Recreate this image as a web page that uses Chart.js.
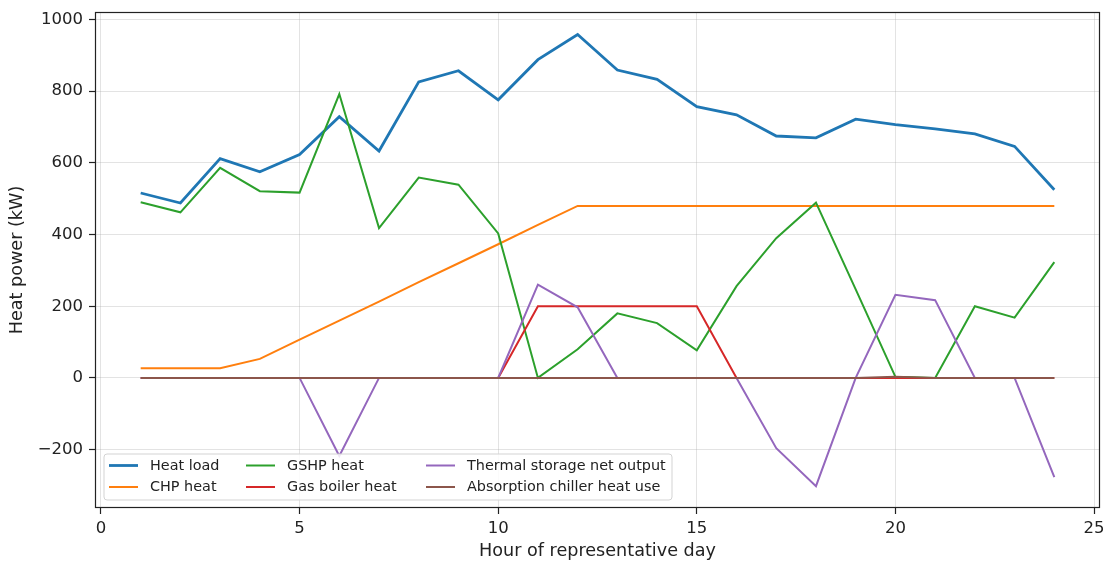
<!DOCTYPE html>
<html>
<head>
<meta charset="utf-8">
<script src="https://cdn.jsdelivr.net/npm/chart.js@4/dist/chart.umd.min.js"></script>
<style>
html,body{margin:0;padding:0;background:#fff;}
#wrap{width:1108px;height:567px;}
</style>
</head>
<body>
<div id="wrap"><canvas id="c" width="1108" height="567"></canvas></div>
<script>
const hours = [1,2,3,4,5,6,7,8,9,10,11,12,13,14,15,16,17,18,19,20,21,22,23,24];
const heatLoad = [516,488,612,575,623,729,633,826,857,776,888,958,859,833,757,734,675,670,722,707,695,681,646,525];
const chpHeat = [27,27,27,53,107,160,213,267,320,373,427,480,480,480,480,480,480,480,480,480,480,480,480,480];
const gshpHeat = [490,462,586,521,517,792,418,559,539,403,0,80,180,153,77,256,390,489,247,3,0,200,168,323];
const boilerHeat = [0,0,0,0,0,0,0,0,0,0,200,200,200,200,200,0,0,0,0,0,0,0,0,0];
const storageNet = [0,0,0,0,0,-218,0,0,0,0,260,197,0,0,0,0,-196,-302,0,232,217,0,0,-277];
const chillerHeat = [0,0,0,0,0,0,0,0,0,0,0,0,0,0,0,0,0,0,0,3,0,0,0,0];
const seriesLabels = ["Heat load","CHP heat","GSHP heat","Gas boiler heat","Thermal storage net output","Absorption chiller heat use"];
const seriesColors = ["#1f77b4","#ff7f0e","#2ca02c","#d62728","#9467bd","#8c564b"];
const seriesData = [heatLoad, chpHeat, gshpHeat, boilerHeat, storageNet, chillerHeat];
const xTicks = [0,5,10,15,20,25];
const yTicks = [-200,0,200,400,600,800,1000];
const xTitle = "Hour of representative day";
const yTitle = "Heat power (kW)";

const FONT = "'DejaVu Sans', sans-serif";

const datasets = seriesData.map((vals, i) => ({
  label: seriesLabels[i],
  data: hours.map((h, j) => ({x: h, y: vals[j]})),
  borderColor: seriesColors[i],
  backgroundColor: seriesColors[i],
  borderWidth: i === 0 ? 2.8 : 2.0,
  pointRadius: 0,
  tension: 0,
  fill: false,
  order: seriesData.length - i
}));

const fmt = v => (v < 0 ? '\u2212' + Math.abs(v) : String(v));

const framePlugin = {
  id: 'frame',
  afterDatasetsDraw(chart) {
    const ctx = chart.ctx, a = chart.chartArea;
    ctx.save();
    ctx.strokeStyle = '#222';
    ctx.lineWidth = 1.2;
    ctx.strokeRect(Math.round(a.left)+0.5, Math.round(a.top)+0.5, Math.round(a.right-a.left)-1, Math.round(a.bottom-a.top)-1);
    ctx.restore();
  },
  afterDraw(chart) {
    const ctx = chart.ctx, a = chart.chartArea;
    const bx = a.left + 9, by = 454, bw = 568, bh = 46;
    ctx.save();
    ctx.fillStyle = 'rgba(255,255,255,0.85)';
    ctx.strokeStyle = '#d3d3d3';
    ctx.lineWidth = 1;
    const r = 3;
    ctx.beginPath();
    ctx.moveTo(bx + r, by);
    ctx.lineTo(bx + bw - r, by);
    ctx.quadraticCurveTo(bx + bw, by, bx + bw, by + r);
    ctx.lineTo(bx + bw, by + bh - r);
    ctx.quadraticCurveTo(bx + bw, by + bh, bx + bw - r, by + bh);
    ctx.lineTo(bx + r, by + bh);
    ctx.quadraticCurveTo(bx, by + bh, bx, by + bh - r);
    ctx.lineTo(bx, by + r);
    ctx.quadraticCurveTo(bx, by, bx + r, by);
    ctx.closePath();
    ctx.fill();
    ctx.stroke();
    const colX = [150, 287, 467];
    const rowY = [465.5, 487];
    ctx.font = "14.4px " + FONT;
    ctx.textBaseline = 'middle';
    ctx.textAlign = 'left';
    chart.data.datasets.forEach((ds, i) => {
      const col = Math.floor(i / 2), row = i % 2;
      const tx = colX[col], ty = rowY[row];
      ctx.strokeStyle = ds.borderColor;
      ctx.lineWidth = ds.borderWidth;
      ctx.beginPath();
      ctx.moveTo(tx - 41, ty);
      ctx.lineTo(tx - 12, ty);
      ctx.stroke();
      ctx.fillStyle = '#222';
      ctx.fillText(ds.label, tx, ty + 0.5);
    });
    ctx.restore();
  }
};

new Chart(document.getElementById('c'), {
  type: 'line',
  data: { datasets },
  options: {
    responsive: false,
    animation: false,
    devicePixelRatio: 1,
    layout: { padding: { left: 0, right: 8, top: 12, bottom: 5 } },
    plugins: { legend: { display: false }, tooltip: { enabled: false } },
    scales: {
      x: {
        type: 'linear',
        min: -0.15,
        max: 25.15,
        afterFit(s) { s.height = 54; s.paddingLeft = 0; s.paddingRight = 0; },
        afterBuildTicks(s) { s.ticks = xTicks.map(v => ({ value: v })); },
        ticks: { padding: 5, color: '#222', font: { family: FONT, size: 16.5 }, callback: v => fmt(v) },
        grid: { color: 'rgba(176,176,176,0.35)', lineWidth: 1, drawTicks: true, tickLength: 6, tickColor: '#222', tickWidth: 1.2 },
        border: { display: false },
        title: { display: true, text: xTitle, color: '#222', font: { family: FONT, size: 17.6 }, padding: { top: 2, bottom: 0 } }
      },
      y: {
        type: 'linear',
        min: -363,
        max: 1021,
        afterFit(s) { s.width = 95; s.paddingTop = 0; s.paddingBottom = 0; },
        afterBuildTicks(s) { s.ticks = yTicks.map(v => ({ value: v })); },
        ticks: { padding: 6, color: '#222', font: { family: FONT, size: 16.5 }, callback: v => fmt(v) },
        grid: { color: 'rgba(176,176,176,0.35)', lineWidth: 1, drawTicks: true, tickLength: 6, tickColor: '#222', tickWidth: 1.2 },
        border: { display: false },
        title: { display: true, text: yTitle, color: '#222', font: { family: FONT, size: 17.6 }, padding: { top: 7, bottom: 0 } }
      }
    }
  },
  plugins: [framePlugin]
});
</script>
</body>
</html>
